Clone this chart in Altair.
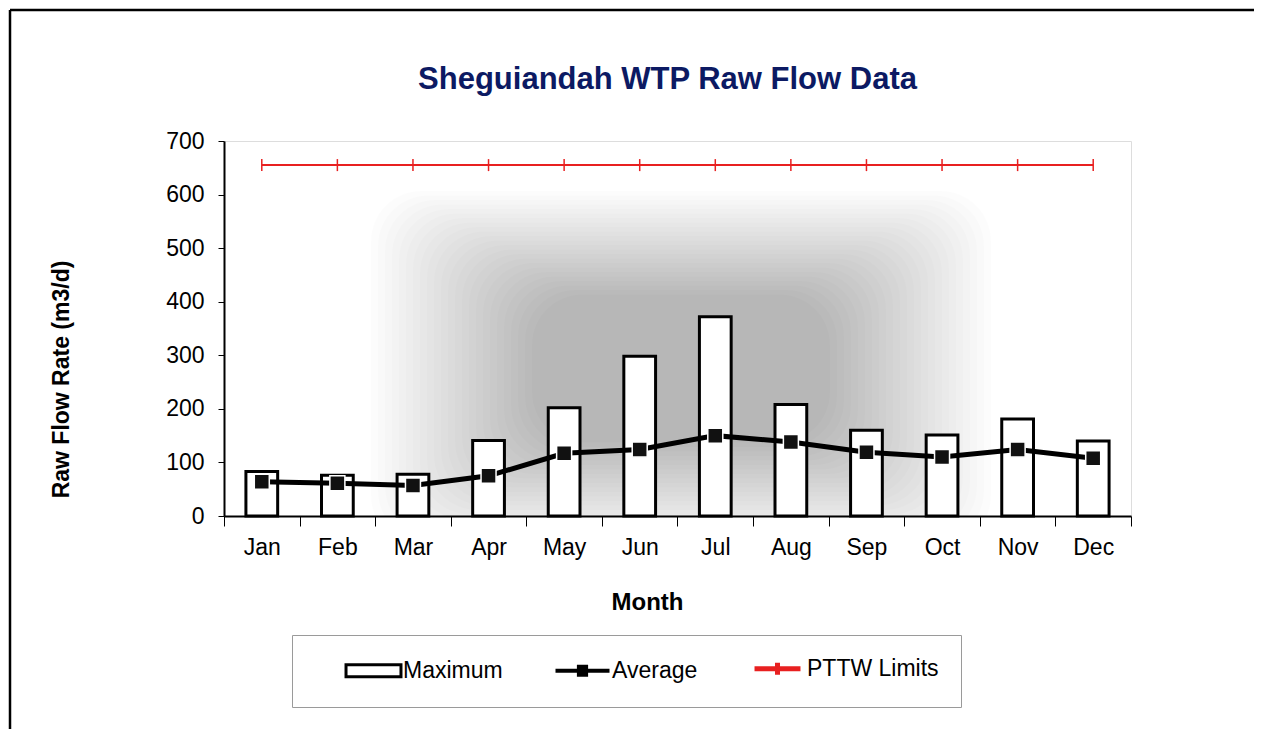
import altair as alt
import pandas as pd

months = ["Jan", "Feb", "Mar", "Apr", "May", "Jun", "Jul", "Aug", "Sep", "Oct", "Nov", "Dec"]
maximum = [83, 76, 78, 141, 202, 298, 372, 208, 160, 151, 181, 140]
average = [64, 61, 57, 75, 117, 124, 150, 138, 119, 110, 124, 108]
pttw = [655, 655, 655, 655, 655, 655, 655, 655, 655, 655, 655, 655]
series = ["Maximum", "Average", "PTTW Limits"]

FONT = "Liberation Sans"
W, H = 907, 375

df = pd.DataFrame({"month": months, "maximum": maximum, "average": average, "pttw": pttw})
one = pd.DataFrame({"d": [0]})
leg_df = pd.DataFrame({"series": series})

x_enc = alt.X(
    "month:N",
    sort=months,
    scale=alt.Scale(domain=months, paddingInner=0, paddingOuter=0),
    axis=alt.Axis(
        title="Month", labelAngle=0, tickBand="extent", tickSize=10, tickColor="black",
        tickWidth=1, domainColor="black", domainWidth=2, labelFont=FONT, labelFontSize=23,
        labelColor="black", labelPadding=10, titleFont=FONT, titleFontSize=24,
        titleFontWeight="bold", titleColor="black", titlePadding=31, titleX=423,
    ),
)
y_scale = alt.Scale(domain=[0, 700], nice=False, zero=True)
y_axis = alt.Axis(
    title="Raw Flow Rate (m3/d)", values=[0, 100, 200, 300, 400, 500, 600, 700],
    tickSize=6, tickColor="black", domainColor="black", domainWidth=2, grid=False,
    labelFont=FONT, labelFontSize=23, labelColor="black", labelPadding=14,
    titleFont=FONT, titleFontSize=23, titleFontWeight="bold", titleColor="black",
    titleX=-163, titleY=238, titleAngle=270, titleBaseline="middle", titleAlign="center",
)

# decorative outer frame (scanned page border)
frame_left = alt.Chart(one).mark_rule(color="black", strokeWidth=2.5).encode(
    x=alt.value(-214), y=alt.value(-131), y2=alt.value(588)
)
frame_top = alt.Chart(one).mark_rule(color="black", strokeWidth=2.5).encode(
    x=alt.value(-214), x2=alt.value(1030), y=alt.value(-131)
)

# decorative grey scan shading behind the bars (soft blurred rectangle)
shade_layers = []
for i in range(24):
    ix, iy = 7 * i, 4.5 * i
    shade_layers.append(
        alt.Chart(one).mark_rect(fill="black", opacity=0.013, cornerRadius=50, clip=True).encode(
            x=alt.value(147 + ix), x2=alt.value(767 - ix),
            y=alt.value(50 + iy), y2=alt.value(405 - iy),
        )
    )

bars = alt.Chart(df).mark_bar(
    fill="white", stroke="black", strokeWidth=3, width=alt.RelativeBandSize(0.42)
).encode(x=x_enc, y=alt.Y("maximum:Q", scale=y_scale, axis=y_axis))

pttw_line = alt.Chart(df).mark_line(color="#e82020", strokeWidth=2).encode(
    x=alt.X("month:N", sort=months), y=alt.Y("pttw:Q")
)
pttw_pts = alt.Chart(df).mark_point(
    shape="M0,-1L0,1", size=144, stroke="#e82020", strokeWidth=1.5, opacity=1
).encode(x=alt.X("month:N", sort=months), y=alt.Y("pttw:Q"))

avg_line = alt.Chart(df).mark_line(color="black", strokeWidth=5).encode(
    x=alt.X("month:N", sort=months), y=alt.Y("average:Q")
)
avg_pts = alt.Chart(df).mark_point(
    shape="square", size=225, filled=True, fill="#111111", stroke="white", strokeWidth=1.5, opacity=1
).encode(x=alt.X("month:N", sort=months), y=alt.Y("average:Q"))

legend = alt.Legend(
    orient="none", legendX=68, legendY=494, direction="horizontal", title=None,
    strokeColor="#9a9a9a", fillColor="white", padding=22, labelFont=FONT,
    labelFontSize=23, labelColor="black", symbolSize=144, columnPadding=20,
    symbolOffset=48, labelOffset=18,
)
rect_path = "M-4.58,-1L4.58,-1L4.58,1L-4.58,1Z"
avg_path = "M-4.5,0L4.5,0M-0.6,-0.65L0.6,-0.65L0.6,0.65L-0.6,0.65Z"
pttw_path = "M-3.83,0L3.83,0M0,-1L0,1"

leg = alt.Chart(leg_df).mark_point(filled=True, opacity=1).transform_filter("false").encode(
    shape=alt.Shape("series:N", scale=alt.Scale(domain=series, range=[rect_path, avg_path, pttw_path]), legend=legend),
    fill=alt.Fill("series:N", scale=alt.Scale(domain=series, range=["white", "black", "transparent"]), legend=legend),
    stroke=alt.Stroke("series:N", scale=alt.Scale(domain=series, range=["black", "black", "#e82020"]), legend=legend),
    strokeWidth=alt.StrokeWidth("series:O", scale=alt.Scale(domain=series, range=[3, 5, 2]), legend=legend),
)

chart = alt.layer(
    frame_left, frame_top, *shade_layers, bars, pttw_line, pttw_pts, avg_line, avg_pts, leg
).properties(
    width=W, height=H, padding=0,
    title=alt.Title(
        "Sheguiandah WTP Raw Flow Data", font=FONT, fontSize=31, fontWeight="bold",
        color="#0c1a63", anchor="middle", dx=-10, offset=-87,
    ),
).configure_view(stroke="black", strokeWidth=2).configure(background="white")

chart.save("out.html", embed_options={"renderer": "svg", "actions": False})
